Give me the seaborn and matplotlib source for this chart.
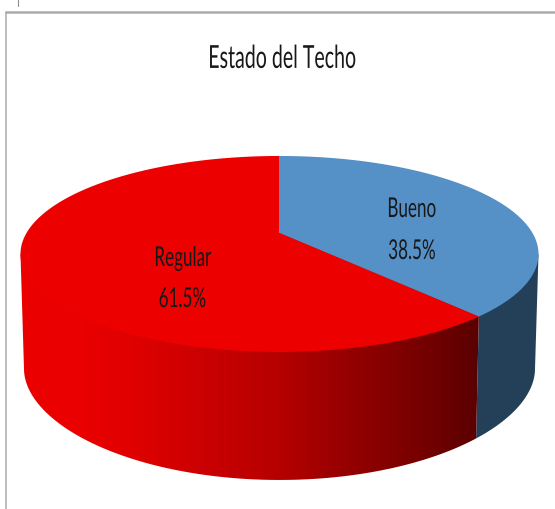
import numpy as np
import matplotlib
matplotlib.use("Agg")
import matplotlib.pyplot as plt
import seaborn as sns
from matplotlib.colors import LinearSegmentedColormap
from matplotlib.patches import Polygon
from matplotlib.patheffects import AbstractPathEffect
from matplotlib.transforms import Affine2D

# --- data ---
title = "Estado del Techo"
categories = ["Bueno", "Regular"]
percent = [38.5, 61.5]

# --- style ---
top_colors = sns.color_palette(["#5590C6", "#EC0000"])
blue_wall = "#243F58"
red_wall_x = [20, 80, 130, 200, 280, 360, 400, 480]
red_wall_stops = ["#EC0000", "#EA0000", "#E00000", "#CC0000", "#B50000", "#900000", "#800000", "#5A0000"]
frame_color = "#ABABAB"
text_color = "#181818"

sns.set_theme(style="white")
plt.rcParams["font.family"] = ["Lato", "DejaVu Sans"]

W, H = 555, 509
fig = plt.figure(figsize=(W / 100, H / 100), dpi=100, facecolor="white")
ax = fig.add_axes([0, 0, 1, 1])
ax.set_xlim(0, W)
ax.set_ylim(H, 0)
ax.axis("off")

# --- perspective geometry of the pie ---
CX, APEX_Y = 279.5, 233.0
K, A = 0.214, 93.5
DROP_SIDE, DROP_EXTRA = 114.0, 14.0
RX_TOP, RX_BOTTOM = 259.0, 255.5


def project(theta_deg, rx, bottom=False):
    t = np.radians(theta_deg)
    x, y = np.sin(t), np.cos(t)
    den = 1 + K * y
    c = rx * np.sqrt(1 - K ** 2)
    drop = DROP_SIDE + DROP_EXTRA * y ** 2 if bottom else 0.0
    return np.column_stack([CX + c * x / den, APEX_Y + drop - A * y / den])


def arc(start, end, rx, bottom=False, n=240):
    return project(np.linspace(start, end, n), rx, bottom)


boundaries = np.concatenate([[0], np.cumsum(percent)]) / sum(percent) * 360
apex = np.array([[CX, APEX_Y]])

# Angles at which the silhouette turns (right-most and left-most points)
probe = np.linspace(0, 360, 3601)
xs = project(probe, RX_TOP)[:, 0]
right_angle, left_angle = probe[np.argmax(xs)], probe[np.argmin(xs)]


def wall_outline(start, end):
    top = arc(start, end, RX_TOP)
    bot = arc(start, end, RX_BOTTOM, bottom=True)
    # runs under the top face, so that no seam shows along the front edge
    return np.vstack([apex, top[-1:], bot[::-1], top[:1]])


# --- side walls ---
ax.add_patch(Polygon(wall_outline(right_angle, boundaries[1]), closed=True,
                     facecolor=blue_wall, edgecolor="none", zorder=2))

red_outline = wall_outline(boundaries[1], left_angle)
red_poly = Polygon(red_outline, closed=True, facecolor="none", edgecolor="none")
ax.add_patch(red_poly)
x0, x1 = red_wall_x[0], red_wall_x[-1]
cmap = LinearSegmentedColormap.from_list(
    "wall", list(zip((np.array(red_wall_x) - x0) / (x1 - x0), red_wall_stops)))
grad = ax.imshow(np.linspace(0, 1, 512)[None, :], cmap=cmap, aspect="auto",
                 extent=[x0, x1, H, 0], zorder=2, interpolation="bilinear")
grad.set_clip_path(red_poly)
ax.set_xlim(0, W)
ax.set_ylim(H, 0)

# --- top faces ---
for i, col in enumerate(top_colors):
    pts = np.vstack([apex, arc(boundaries[i], boundaries[i + 1], RX_TOP)])
    ax.add_patch(Polygon(pts, closed=True, facecolor=col, edgecolor="none", zorder=3))


# --- condensed text: real text, drawn taller than its natural proportions ---
class Stretch(AbstractPathEffect):
    def __init__(self, anchor_y, factor):
        super().__init__()
        self.anchor_y, self.factor = anchor_y, factor

    def draw_path(self, renderer, gc, tpath, affine, rgbFace=None):
        y0 = ax.transData.transform((0, self.anchor_y))[1]
        t = affine + Affine2D().translate(0, -y0).scale(1, self.factor).translate(0, y0)
        renderer.draw_path(gc, tpath, t, rgbFace)


def label(x, y, s, size, factor):
    ax.text(x, y, s, ha="center", va="center", fontsize=size, color=text_color,
            zorder=5, path_effects=[Stretch(y, factor)])


label(282.5, 59, title, 14.1, 1.62)
label_pos = {"Bueno": (412, 209, 412, 251), "Regular": (183, 258, 182.5, 299)}
for name, val in zip(categories, percent):
    xa, ya, xb, yb = label_pos[name]
    label(xa, ya, name, 12.3, 1.6)
    label(xb, yb, f"{val}%", 12.3, 1.6)

# --- frame fragments of the screenshot ---
ax.plot([6, 6], [12, H], color=frame_color, lw=1.1, zorder=1)
ax.plot([5.5, W], [12, 12], color=frame_color, lw=1.8, zorder=1)
ax.plot([17.5, 17.5], [0, 6], color="#8C8C8C", lw=0.8, zorder=1)

fig.savefig("out.png", dpi=100, facecolor="white")
